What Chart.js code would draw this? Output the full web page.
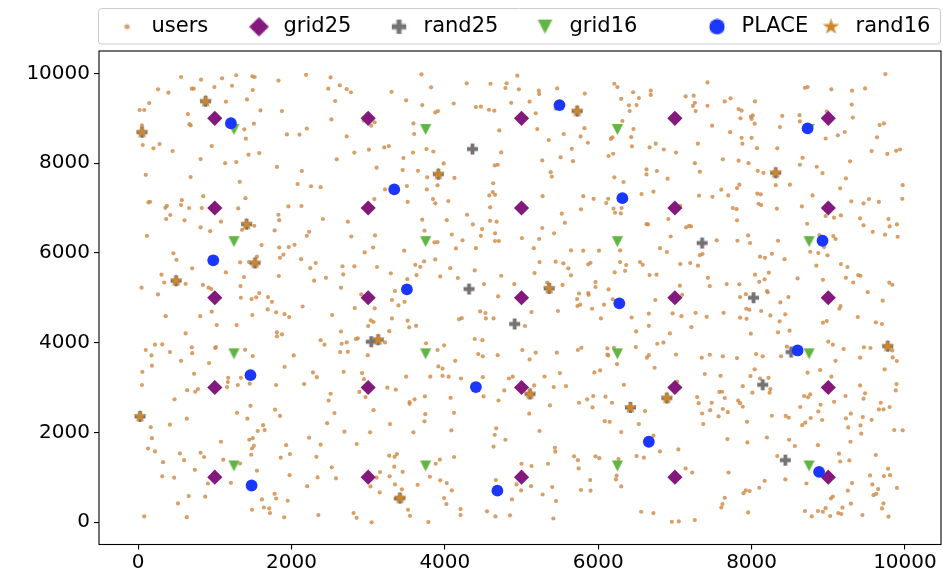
<!DOCTYPE html>
<html>
<head>
<meta charset="utf-8">
<script src="https://cdn.jsdelivr.net/npm/chart.js@4.4.1/dist/chart.umd.min.js"></script>
<style>
    html, body { margin: 0; padding: 0; background: #fff; }
</style>
</head>
<body>
<canvas id="scatterChart" width="943" height="577"></canvas>
<script>
// values (data units)
const users = [
    [560,9920],[820,9860],[1095,9890],[1280,9960],[1490,9935],[1520,9920],[1830,9840],[2190,9970],[260,9645],[395,9570],
    [700,9660],[726,9660],[995,9695],[1225,9725],[1495,9630],[145,9340],[1145,9370],[1420,9420],[20,9185],[80,9185],
    [650,9095],[1595,9175],[1875,9160],[670,8870],[686,8842],[1510,8880],[1385,8755],[50,8840],[2200,8770],[1940,8640],
    [2105,8635],[1405,8545],[60,8405],[200,8330],[280,8425],[450,8270],[960,8380],[815,8090],[1135,8000],[1280,8025],
    [1440,8190],[1580,8225],[1810,7915],[2135,7825],[100,7740],[685,7690],[1325,7585],[2080,7535],[850,7265],[1400,7220],
    [135,7125],[156,7140],[570,7175],[560,7065],[375,7050],[355,7005],[665,7000],[830,7000],[1305,6990],[1960,7035],
    [2130,7045],[2255,7485],[420,6845],[1830,6850],
    [2510,9910],[2480,9660],[2630,9735],[2720,9650],[2775,9580],[2570,9385],[2520,8975],[3695,9980],[3820,9690],[3305,9590],
    [3495,9400],[3705,9295],[3875,9130],[3910,9160],[4115,9330],[4285,9780],[4595,9770],[4805,9780],[4790,9675],[4945,9950],
    [4965,9645],[4865,9345],[4405,9250],[4470,9260],[4575,9190],[4645,9170],[4710,8730],[3085,8910],[3040,8835],[2720,8595],
    [3590,8885],[3600,8650],[3210,8350],[3270,8380],[3010,8300],[2820,8235],[2590,8085],[3760,8315],[3850,8260],[3585,8235],
    [3460,8115],[3985,7995],[4735,8240],[4650,7950],[4690,7965],[3110,7900],[3450,7845],[3650,7830],[3770,7685],[3905,7505],
    [4125,7670],[3505,7490],[3765,7415],[3220,7415],[2380,7465],[4630,7550],[4625,7355],[4580,7280],[4655,7295],[3845,7200],
    [3875,7105],[4045,7155],[3515,7135],[3080,7200],[4590,7015],[4290,6850],[2940,8945],
    [5225,9615],[5230,9540],[5105,9370],[5465,9665],[5825,9550],[5185,9110],[6210,9770],[6250,9695],[6455,9580],[6530,9450],
    [6300,9435],[6400,9290],[6500,9295],[6410,9160],[6685,9615],[6685,9520],[7140,9490],[7245,9505],[7260,9345],[7235,9275],
    [7425,9280],[7270,9160],[7425,9800],[7650,9375],[6315,8940],[5205,8760],[5550,8650],[5355,8515],[5820,8780],[5770,8595],
    [5865,8455],[5655,8320],[5510,8130],[5670,8045],[5270,8060],[6460,8760],[6430,8580],[6440,8375],[6165,8540],[6185,8575],
    [6135,8160],[6195,8210],[6670,8350],[6750,8435],[6855,8305],[7015,8235],[7485,8835],[7300,8435],[7625,8085],[7260,8000],
    [7325,7810],[5380,7800],[5395,7700],[6630,7860],[6630,7750],[6765,7825],[6905,7655],[6210,7685],[6330,7580],[5275,7265],
    [5805,7265],[5940,7205],[6130,7205],[6105,7110],[6565,7310],[6720,7365],[7315,7275],[7490,7250],[7605,7410],[7695,7280],
    [5775,6970],[6200,6985],[6305,7000],[6220,6895],[6295,6880],[5525,6875],[7070,7050],[5445,9215],[7725,9445],[7720,8690],
    [9745,9985],[8695,9680],[8730,9695],[9040,9645],[9310,9615],[9480,9665],[8045,9375],[9305,9305],[7830,9205],[7870,9170],
    [7855,9000],[7990,9035],[8015,9065],[8000,8985],[8040,8880],[8400,9055],[8625,9070],[8630,8930],[8370,8805],[8980,9155],
    [9320,9015],[9215,8695],[9125,8620],[8965,8550],[9670,8850],[9725,8885],[9635,8575],[9565,8270],[9770,8205],[9885,8275],
    [9935,8305],[7870,8565],[8000,8565],[7880,8435],[8070,8335],[8335,8330],[8665,8120],[8630,7965],[8850,7920],[8925,7780],
    [9285,8040],[7830,8055],[7960,8000],[8080,7830],[8155,7785],[8315,7510],[8500,7520],[7840,7520],[7810,7445],[8075,7320],
    [8120,7305],[8795,7280],[9230,7660],[9155,7440],[9970,7510],[9965,7205],[8090,7095],[8125,7065],[7755,7000],[7805,6975],
    [8330,6985],[8655,7035],[9300,7150],[9460,7105],[9530,7200],[9660,7135],
    [365,6755],[605,6725],[815,6570],[940,6485],[1080,6695],[115,6380],[1355,6515],[1515,6605],[1780,6500],[1840,6730],
    [2200,6380],[2230,6470],[1610,6175],[1840,6120],[1965,6130],[2040,6180],[1895,5960],[1850,5890],[2125,5860],[1550,5915],
    [1445,5795],[1330,5790],[460,5990],[500,5845],[705,5655],[1145,5565],[1380,5460],[1835,5485],[305,5515],[340,5340],
    [620,5310],[45,5225],[260,5075],[845,5285],[920,5225],[955,5195],[1335,5260],[1340,5000],[1480,4970],[1540,5010],
    [1580,5105],[1695,5015],[1745,4910],[2245,5660],[2145,4805],[1690,4740],[1800,4675],[1910,4635],[1970,4570],[1490,4615],
    [960,4690],[810,4590],[360,4590],[1025,4390],[1285,4390],[620,4205],[1810,4230],[1810,4140],[1875,4185],[220,3955],
    [315,3960],[100,3835],[175,3715],[415,3790],[700,3895],[705,3765],[1005,3880],[1015,3900],[1395,3840],[1495,3700],
    [560,3595],[925,3545],[180,3485],[55,3350],[730,3305],[1175,3215],[1340,3215],[1910,3460],[2030,3715],
    [2410,6755],[2735,6695],[2780,6365],[3090,6390],[3065,6120],[2955,6010],[3470,6050],[3705,6740],[3735,6495],[4025,6730],
    [4365,6635],[4590,6715],[4675,6695],[4485,6530],[4470,6380],[4655,6435],[4655,6265],[4705,6265],[4090,6410],[4230,6280],
    [4145,6100],[4405,6105],[3865,6235],[3905,6240],[2315,5775],[2665,5700],[2820,5700],[3115,5685],[2675,5520],[2450,5445],
    [2295,5380],[2645,5225],[3295,5545],[3510,5415],[3615,5735],[3680,5690],[3730,5810],[3875,5855],[3630,5505],[4070,5660],
    [3940,5475],[4170,5440],[4390,5610],[4735,5490],[4510,5305],[4905,5305],[4695,5030],[2910,5075],[2825,4770],[3085,4765],
    [3310,4950],[3350,5150],[3395,4830],[3475,4910],[2530,4615],[3310,4540],[3035,4495],[3070,4460],[3000,4370],[3515,4490],
    [3535,4340],[3625,4375],[3275,4255],[2645,4245],[2380,4055],[2430,3955],[2655,3975],[2720,4005],[2840,4080],[2865,4095],
    [2635,3790],[2735,3795],[2995,3720],[3220,4005],[3755,3985],[3905,3835],[3990,3940],[4460,4695],[4530,4660],[4535,4540],
    [4635,4540],[4220,4545],[4185,4520],[4390,4080],[4490,4055],[4435,3745],[4495,3695],[4690,3720],[4135,3595],[3915,3470],
    [3970,3420],[4050,3240],[3970,3260],[4210,3200],[4495,3230],[4835,3200],[4885,3240],[3495,3240],[3810,3240],[2920,3320],
    [2945,3185],[2680,3350],[2280,3335],[2330,3230],
    [5565,6670],[5270,6555],[5425,6435],[5230,6310],[5005,6330],[5160,6105],[5645,6055],[5805,6050],[6010,6050],[6285,6055],
    [6630,6640],[6650,6635],[6915,6755],[7145,6570],[7185,6600],[7210,6590],[6945,6365],[6805,6105],[6895,6020],[7545,6280],
    [7325,5950],[7360,5975],[5235,5795],[5445,5805],[5545,5765],[5610,5655],[5645,5500],[5170,5550],[5870,5745],[5900,5780],
    [6285,5795],[6365,5730],[6350,5600],[6215,5565],[6545,5795],[6580,5735],[6670,5505],[6760,5515],[7070,5750],[7200,5775],
    [7300,5715],[7430,5445],[7455,5260],[7675,5305],[7065,5270],[7095,5065],[5335,5340],[5535,5285],[5965,5350],[5965,5240],
    [6135,5185],[5750,5095],[5870,5105],[5875,5065],[5725,4970],[5730,4815],[5765,4845],[5920,4755],[6075,4845],[6190,4965],
    [6035,4540],[5475,4705],[5130,4680],[5045,4370],[6435,4560],[6495,4250],[6660,4645],[6660,4375],[6745,4950],[6970,4650],
    [7085,4590],[7270,4665],[7415,4575],[7635,4665],[7215,4345],[6935,4205],[6770,3975],[6850,4000],[6490,3900],[6660,3720],
    [6635,3665],[6735,3440],[7015,3735],[7350,3665],[7455,3730],[7625,3695],[7390,3300],[7595,3260],[5010,3835],[5185,3775],
    [5105,3625],[5460,3775],[5735,3835],[5780,3885],[6120,3870],[6120,3735],[6130,3715],[6205,3885],[6245,3520],[5950,3335],
    [6025,3380],[5500,3320],[5300,3245],
    [7810,6725],[8725,6650],[8965,6820],[9075,6785],[9165,6835],[9415,6770],[9785,6755],[9460,6615],[9800,6590],[9895,6635],
    [9580,6470],[9740,6405],[9905,6360],[7955,6390],[7815,6270],[7980,6220],[8345,6270],[8885,6395],[9065,6375],[9095,6310],
    [8945,6130],[8765,6025],[8870,5995],[8990,5945],[8265,5980],[8110,5915],[8175,5890],[8430,5860],[8845,5715],[9165,5750],
    [9250,5685],[8045,5515],[8225,5560],[8170,5410],[8100,5355],[8600,5430],[8930,5400],[9230,5445],[9325,5340],[9390,5505],
    [9420,5490],[9795,5335],[9835,5290],[9515,5125],[7840,5300],[7925,5080],[7850,5015],[8200,5150],[8210,5120],[8480,5015],
    [8375,4895],[9710,4935],[9160,4815],[9145,4755],[7930,4755],[7970,4735],[8125,4705],[7850,4555],[7935,4530],[8245,4605],
    [8440,4630],[8365,4475],[9385,4570],[9620,4450],[9700,4415],[8930,4445],[8980,4480],[8345,4230],[8495,4265],[7990,4200],
    [9000,4020],[9060,3955],[9200,3855],[9465,3895],[9550,3880],[9835,3825],[9840,3670],[9895,3590],[9415,3665],[9095,3595],
    [8460,3910],[8385,3695],[8060,3745],[8145,3695],[7810,3655],[8040,3405],[8730,3330],[8895,3390],[9040,3240],[9735,3405],
    [7985,3255],[8110,3200],[8220,3215],
    [50,3055],[640,2940],[745,2905],[780,2965],[1160,3010],[1170,3120],[1300,3055],[1455,3085],[1800,3055],[2165,3075],
    [475,2735],[635,2305],[415,2170],[165,2115],[180,1870],[130,1640],[220,1575],[1290,2435],[1425,2305],[1465,2590],
    [1785,2505],[1850,2365],[1630,2160],[1560,2030],[1650,2050],[1450,1835],[1495,1870],[1510,1700],[1485,1640],[1475,1500],
    [1080,1790],[545,1530],[600,1380],[815,1545],[860,1450],[325,1335],[315,1020],[470,990],[740,1165],[1110,1390],
    [1330,1305],[1550,1145],[1930,1715],[1980,1515],[1860,1435],[2230,1880],[1975,1045],[2205,800],[910,860],[1210,875],
    [660,580],[875,565],[520,415],[80,125],[635,110],[1615,505],[1780,630],[1800,525],[1950,475],[1640,325],
    [1710,305],[1720,200],[1485,275],[1905,105],
    [2885,2900],[2965,2785],[3250,2995],[3360,2950],[2510,2860],[2485,2710],[2560,2430],[2465,2205],[3070,2495],[3285,2185],
    [2690,2015],[3025,2000],[3540,2675],[3540,2635],[3605,2735],[3740,2800],[3745,2405],[3735,2245],[3590,2000],[4075,2770],
    [4120,2435],[4085,2045],[4505,2800],[4700,2710],[4775,2935],[4670,2090],[4650,1945],[4790,1835],[4635,1680],[2380,1725],
    [2850,1740],[2325,1455],[2525,1220],[2340,995],[2580,975],[3275,1480],[3345,1455],[3375,1515],[3155,1115],[3340,1235],
    [3450,1120],[3280,1020],[3110,990],[3030,795],[3150,660],[3350,840],[3440,730],[3645,830],[3805,1010],[3880,1300],
    [3935,1390],[4120,1450],[3940,930],[4025,870],[4090,705],[3990,535],[4020,400],[3355,520],[3520,275],[3545,140],
    [3785,0],[4205,290],[4205,155],[4665,935],[4875,505],[4550,240],[4660,125],[4850,150],[4935,840],[2350,155],
    [2810,200],[2850,95],[3045,-5],
    [5165,3045],[5420,3010],[5580,3030],[5750,2660],[5855,2735],[5935,2810],[5925,2555],[6095,2795],[6180,2660],[6335,3060],
    [5370,2600],[5100,2415],[6610,2475],[6530,2185],[6085,2250],[6150,2235],[6300,2005],[5235,2030],[6720,1925],[6805,1575],
    [7045,1620],[7290,2785],[7310,2650],[7480,2660],[7460,2495],[7355,2420],[7370,2185],[7580,2900],[7615,2905],[7650,2765],
    [7625,2520],[7690,2450],[7570,2355],[7685,1850],[5435,1655],[5440,1570],[5685,1465],[5735,1380],[5965,1465],[6015,1425],
    [6265,1405],[6500,1470],[6595,1435],[5345,1300],[5000,1300],[5130,1250],[5745,1195],[6240,1035],[6230,950],[7140,1195],
    [7225,1105],[7700,1105],[5895,935],[5775,715],[5900,700],[6300,795],[5400,780],[5125,800],[4995,705],[5275,615],
    [5450,470],[7650,540],[7620,400],[7605,325],[6560,230],[6720,200],[6960,5],[7050,15],[7260,45],[5415,80],
    [7030,3130],
    [7885,3030],[8010,2885],[8235,2885],[8245,2965],[7825,2705],[7850,2650],[7885,2570],[7940,2235],[8265,2370],[8445,2365],
    [8485,2325],[8685,2810],[8735,2780],[8765,2845],[8635,2565],[8900,2615],[8870,2465],[8770,2320],[8920,2275],[8700,2215],
    [8660,2160],[9075,2680],[9225,2810],[9415,3045],[9480,2870],[9460,2750],[9890,3075],[9880,2935],[9685,2660],[9660,2510],
    [9720,2510],[9800,2565],[9295,2415],[9230,2310],[9450,2340],[9565,2280],[9420,2155],[9260,2110],[9430,1970],[9860,2050],
    [9970,2045],[8200,1885],[7945,1775],[8490,1835],[8565,1695],[8865,1715],[9290,1790],[8335,1470],[9140,1525],[9155,1350],
    [9275,1375],[9620,1495],[9780,1190],[9725,1025],[9805,1045],[9895,760],[9545,1040],[9575,840],[9650,735],[9625,630],
    [9590,600],[9310,870],[9255,700],[8715,860],[8440,950],[8170,920],[8100,765],[7925,705],[7895,645],[7975,690],
    [9035,525],[9060,570],[8965,310],[9185,320],[9295,410],[9130,200],[9170,180],[8865,245],[8930,230],[8695,245],
    [8785,125],[9025,135],[9445,155],[9700,305],[9720,415],[9785,120],[7955,215]
];

const grid25 = [
    [1000,1000],[1000,3000],[1000,5000],[1000,7000],[1000,9000],
    [3000,1000],[3000,3000],[3000,5000],[3000,7000],[3000,9000],
    [5000,1000],[5000,3000],[5000,5000],[5000,7000],[5000,9000],
    [7000,1000],[7000,3000],[7000,5000],[7000,7000],[7000,9000],
    [9000,1000],[9000,3000],[9000,5000],[9000,7000],[9000,9000]
];

const rand25 = [
    [880,9380],[50,8690],[3915,7755],[5725,9160],[8315,7785],[1415,6640],[1525,5775],[495,5380],
    [3130,4065],[5360,5210],[9775,3920],[25,2355],[3415,535],[5110,2855],[6895,2765],[6420,2555],
    [4360,8315],[7355,6220],[4315,5195],[4910,4415],[3040,4020],[8025,5000],[8515,3790],[8145,3060],[8440,1380]
];

const grid16 = [
    [1250,1250],[1250,3750],[1250,6250],[1250,8750],
    [3750,1250],[3750,3750],[3750,6250],[3750,8750],
    [6250,1250],[6250,3750],[6250,6250],[6250,8750],
    [8750,1250],[8750,3750],[8750,6250],[8750,8750]
];

const place = [
    [1210,8890],[3340,7415],[5495,9295],[6315,7220],[8730,8775],[980,5835],[1465,3275],[3505,5185],
    [6275,4875],[8925,6270],[8600,3825],[1480,815],[4405,3010],[4685,700],[6660,1790],[8880,1120]
];

const rand16 = [
    [880,9380],[50,8690],[3915,7755],[5725,9160],[8315,7785],[1415,6640],[1525,5775],[495,5380],
    [3130,4065],[5360,5210],[9775,3920],[25,2355],[3415,535],[5110,2855],[6895,2765],[6420,2555]
];

const xTicks = [0, 2000, 4000, 6000, 8000, 10000];
const yTicks = [0, 2000, 4000, 6000, 8000, 10000];

const colors = {
    users: 'rgba(205,133,63,0.78)',
    grid25: '#84197d',
    rand25: '#777272',
    grid16: '#62b445',
    place: '#1b36ff',
    rand16: '#cf8629'
};

// sprites for the shapes Chart.js has no filled version of (and for the legend)
function marker(size, paint) {
    const c = document.createElement('canvas');
    c.width = size;
    c.height = size;
    const g = c.getContext('2d');
    g.beginPath();
    paint(g, size / 2);
    g.fill();
    return c;
}

const dotMark = marker(7, (g, c) => {
    g.fillStyle = colors.users;
    g.arc(c, c, 2.1, 0, Math.PI * 2);
});
const diamondMark = marker(17, (g, c) => {
    const r = 7.6;
    g.fillStyle = colors.grid25;
    g.moveTo(c, c - r); g.lineTo(c + r, c); g.lineTo(c, c + r); g.lineTo(c - r, c);
    g.closePath();
});
const plusMark = marker(13, (g, c) => {
    const s = 5.5, a = 1.9;
    g.fillStyle = colors.rand25;
    const pts = [[-a,-s],[a,-s],[a,-a],[s,-a],[s,a],[a,a],[a,s],[-a,s],[-a,a],[-s,a],[-s,-a],[-a,-a]];
    pts.forEach(([px, py], i) => i ? g.lineTo(c + px, c + py) : g.moveTo(c + px, c + py));
    g.closePath();
});
const triMark = marker(13, (g, c) => {
    const h = 5.6;
    g.fillStyle = colors.grid16;
    g.moveTo(c - h, c - h); g.lineTo(c + h, c - h); g.lineTo(c, c + h);
    g.closePath();
});
const circleMark = marker(13, (g, c) => {
    g.fillStyle = colors.place;
    g.arc(c, c, 5.9, 0, Math.PI * 2);
});
const starMark = marker(15, (g, c) => {
    const R = 6.8, r = R * 0.382;
    g.fillStyle = colors.rand16;
    for (let k = 0; k < 10; k++) {
        const ang = -Math.PI / 2 + k * Math.PI / 5;
        const rad = k % 2 ? r : R;
        const px = c + rad * Math.cos(ang), py = c + rad * Math.sin(ang);
        k ? g.lineTo(px, py) : g.moveTo(px, py);
    }
    g.closePath();
});

const legendIcons = [dotMark, diamondMark, plusMark, triMark, circleMark, starMark];

const toXY = arr => arr.map(([x, y]) => ({ x, y }));

// legend box above the axes, matplotlib style
const legendMarkerX = [127, 259, 399, 545, 717, 831];
const mplLegend = {
    id: 'mplLegend',
    beforeDraw(chart) {
        const { ctx, chartArea } = chart;
        const left = chartArea.left - 0.5, right = chartArea.right - 0.5;
        const top = 8.5, bottom = 44;
        ctx.save();
        ctx.beginPath();
        ctx.roundRect(left, top, right - left, bottom - top, 3);
        ctx.fillStyle = '#fff';
        ctx.fill();
        ctx.strokeStyle = '#cccccc';
        ctx.lineWidth = 1;
        ctx.stroke();

        ctx.font = '21px "DejaVu Sans"';
        ctx.textBaseline = 'middle';
        ctx.fillStyle = '#000';
        const cy = (top + bottom) / 2 + 0.5;
        const scale = 1.3;
        chart.data.datasets.forEach((ds, i) => {
            const img = legendIcons[i];
            const w = img.width * scale, h = img.height * scale;
            const mx = legendMarkerX[i];
            ctx.drawImage(img, mx - w / 2, cy - h / 2, w, h);
            ctx.fillText(ds.label, mx + 24.5, cy);
        });
        ctx.restore();
    },
    afterDatasetsDraw(chart) {
        const { ctx, chartArea } = chart;
        ctx.save();
        ctx.strokeStyle = '#000';
        ctx.lineWidth = 1.1;
        ctx.strokeRect(chartArea.left, chartArea.top, chartArea.right - chartArea.left, chartArea.bottom - chartArea.top);
        ctx.restore();
    }
};

Chart.defaults.font.family = '"DejaVu Sans", sans-serif';

const axisStyle = {
    type: 'linear',
    grid: { drawOnChartArea: false, drawTicks: true, tickLength: 5, color: '#000', lineWidth: 1.1 },
    border: { display: false }
};

new Chart(document.getElementById('scatterChart'), {
    type: 'scatter',
    data: {
        datasets: [
            { label: 'users', data: toXY(users), pointStyle: 'circle', pointRadius: 2.1,
              backgroundColor: colors.users, borderWidth: 0, order: 6 },
            { label: 'grid25', data: toXY(grid25), pointStyle: 'rectRot', pointRadius: 7.6,
              backgroundColor: colors.grid25, borderWidth: 0, order: 5 },
            { label: 'rand25', data: toXY(rand25), pointStyle: plusMark, order: 4 },
            { label: 'grid16', data: toXY(grid16), pointStyle: triMark, order: 3 },
            { label: 'PLACE', data: toXY(place), pointStyle: 'circle', pointRadius: 5.9,
              backgroundColor: colors.place, borderWidth: 0, order: 2 },
            { label: 'rand16', data: toXY(rand16), pointStyle: starMark, order: 1 }
        ]
    },
    options: {
        responsive: false,
        animation: false,
        events: [],
        layout: { autoPadding: false, padding: { top: 51, right: 2, bottom: 0, left: 0 } },
        plugins: {
            legend: { display: false },
            tooltip: { enabled: false }
        },
        scales: {
            x: {
                ...axisStyle,
                min: -510,
                max: 10470,
                afterFit: scale => { scale.height = 32.5; },
                afterBuildTicks: scale => { scale.ticks = xTicks.map(v => ({ value: v })); },
                ticks: { color: '#000', font: { size: 20 }, padding: 1, maxRotation: 0, callback: v => String(v) }
            },
            y: {
                ...axisStyle,
                min: -500,
                max: 10500,
                afterFit: scale => { scale.width = 99; },
                afterBuildTicks: scale => { scale.ticks = yTicks.map(v => ({ value: v })); },
                ticks: { color: '#000', font: { size: 20 }, padding: 4, callback: v => String(v) }
            }
        }
    },
    plugins: [mplLegend]
});
</script>
</body>
</html>
